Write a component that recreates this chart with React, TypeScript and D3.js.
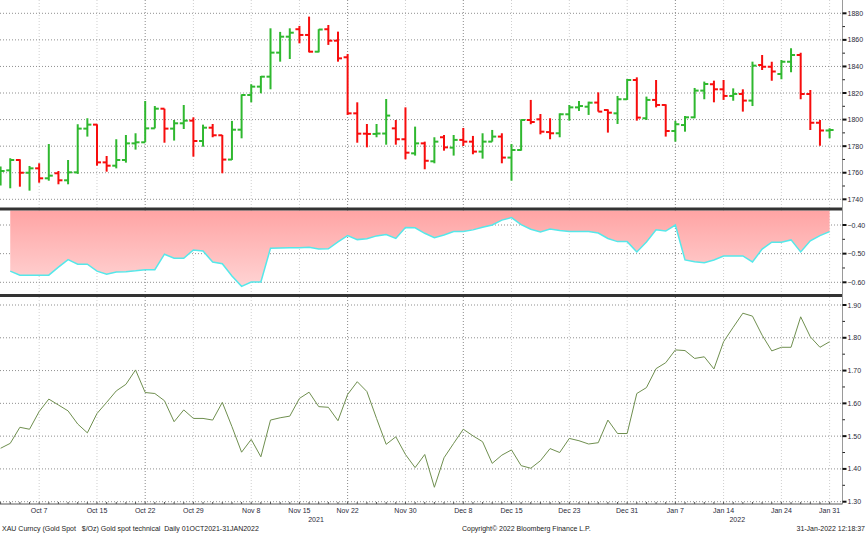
import * as d3 from "d3"

// trading days Oct 1 2021 .. Jan 31 2022 (weekdays)
const days = d3.timeDays(new Date(2021, 9, 1), new Date(2022, 1, 1))
  .filter(d => d.getDay() !== 0 && d.getDay() !== 6)

const opens = [1757,1761.8,1769.6,1760,1763.3,1755.8,1759.6,1754.3,1760.3,1793.2,1796.2,1767.8,1765.3,1769.6,1782.1,1782.9,1793.4,1808.2,1793.2,1797.2,1799.2,1783.9,1793.9,1788.2,1769.9,1792.4,1818.5,1824.8,1832.3,1850.4,1862.4,1868,1863.7,1851.1,1868,1859.4,1846.9,1804.7,1789.4,1789.2,1789.5,1793.4,1785.2,1774.6,1782.1,1768.6,1786.7,1778.9,1784.7,1783.4,1775.9,1783.4,1787.2,1771.4,1777.1,1799.7,1800.2,1790.6,1789.7,1804,1809.2,1809.7,1812.8,1807.2,1804.7,1815.3,1829.8,1801,1814.8,1811,1791.4,1795.9,1801.7,1821.8,1826.6,1822.8,1817.8,1819.3,1814.3,1841.1,1839.8,1834.3,1843.6,1848.6,1819.3,1797.7,1791.7]
const highs = [1764.6,1770.9,1770.1,1765.1,1767.1,1781.6,1761.3,1769.6,1796.5,1801,1796.5,1772.6,1785.2,1788.4,1789.7,1814,1810.2,1808.2,1799.7,1811,1801.7,1796.2,1796.7,1788.4,1799,1819,1826.6,1832.8,1868.7,1866,1868.7,1870.5,1877.5,1868,1871.2,1866.2,1849.4,1813,1796.7,1796.7,1815.5,1799.7,1809.2,1794.7,1783.4,1786.7,1788.4,1788.4,1793.7,1787.7,1789.7,1792.2,1789.7,1781.6,1800.2,1814.8,1804.2,1801,1804.7,1811,1814,1813.5,1820.5,1807.7,1817.8,1830.6,1831.8,1817.3,1829.8,1811.5,1799,1802.7,1823.8,1828.6,1829.3,1829.8,1823.5,1822.8,1843.6,1848.6,1843.6,1844.9,1853.7,1850.4,1822.3,1799.7,1793.4]
const lows = [1750.3,1748.3,1749.5,1746.5,1752.5,1754,1751.3,1751.3,1759.1,1787.2,1765.3,1760.8,1763.3,1767.6,1777.4,1782.9,1793.4,1782.6,1784.2,1792.9,1772.1,1779.6,1786.7,1759.6,1769.6,1785.9,1813,1819.8,1822.8,1843.6,1845.6,1857.4,1850.6,1850.6,1856.2,1843.6,1803.5,1782.6,1779.1,1786.7,1781.1,1781.1,1770.1,1772.9,1762.6,1767.1,1776.6,1772.9,1780.1,1773.9,1770.6,1783.4,1767.1,1754,1776.6,1796.5,1788.9,1785.2,1786.7,1799.2,1806.5,1803.5,1806,1790.2,1796.7,1814.8,1799.2,1799.7,1809.2,1787.2,1783.4,1790.9,1801,1815.3,1813,1814.8,1814.2,1806,1810.2,1837.3,1829.3,1830.3,1835.6,1815.3,1792.2,1780.4,1785.9]
const closes = [1761.3,1769.6,1760,1763.3,1755.8,1757.8,1754.3,1760.3,1793.2,1796.2,1767.8,1765.3,1769.6,1782.1,1782.9,1793.4,1808.2,1793.2,1797.2,1799.2,1783.9,1793.9,1788.2,1769.9,1792.4,1818.5,1824.8,1832.3,1850.4,1862.4,1865.4,1863.7,1851.1,1867.8,1859.4,1846.1,1804.7,1789.4,1789.2,1789.5,1803,1785.2,1775.1,1782.1,1769,1783.4,1779.1,1784.7,1783.4,1775.9,1783.4,1787.2,1771.4,1777.1,1799.7,1798.2,1790.9,1789.7,1804,1809.2,1810.2,1812.7,1806,1805.2,1815.3,1829.8,1801.5,1814.8,1811,1791.4,1796.5,1801.7,1821.8,1826.8,1822.8,1817.8,1819.3,1814.3,1840.6,1839.8,1836.1,1843.6,1848.6,1819.3,1797.7,1791.7,1792.2]

// middle study, starts on the second day
const studyValues = [-0.561,-0.575,-0.575,-0.575,-0.575,-0.547,-0.521,-0.537,-0.537,-0.561,-0.572,-0.564,-0.563,-0.56,-0.556,-0.556,-0.502,-0.516,-0.516,-0.487,-0.491,-0.529,-0.535,-0.578,-0.614,-0.599,-0.599,-0.481,-0.48,-0.479,-0.479,-0.478,-0.484,-0.483,-0.459,-0.437,-0.451,-0.448,-0.438,-0.433,-0.447,-0.409,-0.41,-0.429,-0.444,-0.435,-0.423,-0.423,-0.417,-0.408,-0.4,-0.383,-0.374,-0.399,-0.415,-0.424,-0.414,-0.419,-0.423,-0.423,-0.423,-0.428,-0.447,-0.458,-0.458,-0.494,-0.459,-0.417,-0.421,-0.4,-0.522,-0.528,-0.532,-0.522,-0.508,-0.508,-0.508,-0.529,-0.484,-0.46,-0.46,-0.452,-0.494,-0.455,-0.437,-0.423]

const lowerValues = [1.463,1.478,1.527,1.521,1.575,1.613,1.595,1.577,1.537,1.51,1.569,1.603,1.638,1.658,1.702,1.633,1.63,1.608,1.544,1.58,1.554,1.554,1.549,1.603,1.529,1.451,1.49,1.437,1.549,1.556,1.561,1.615,1.634,1.59,1.588,1.547,1.627,1.666,1.636,1.554,1.475,1.498,1.444,1.404,1.444,1.344,1.434,1.478,1.521,1.501,1.483,1.417,1.442,1.458,1.41,1.402,1.425,1.462,1.45,1.493,1.486,1.476,1.48,1.549,1.508,1.508,1.63,1.648,1.706,1.724,1.763,1.761,1.737,1.742,1.705,1.788,1.832,1.875,1.866,1.808,1.76,1.771,1.771,1.864,1.803,1.771,1.788]

const dateLabels = ["Oct 7","Oct 15","Oct 22","Oct 29","Nov 8","Nov 15","Nov 22","Nov 30","Dec 8","Dec 15","Dec 23","Dec 31","Jan 7","Jan 14","Jan 24","Jan 31"]
const darkGridLabels = ["Oct 22","Nov 22","Dec 8","Jan 7"]
const years = ["2021","2022"]
const priceTicks = [1740,1760,1780,1800,1820,1840,1860,1880]
const studyTicks = [-0.6,-0.5,-0.4]
const lowerTicks = [1.3,1.4,1.5,1.6,1.7,1.8,1.9]

const footerLeft = "XAU Curncy (Gold Spot   $/Oz) Gold spot technical  Daily 01OCT2021-31JAN2022"
const footerMid = "Copyright\u00a9 2022 Bloomberg Finance L.P."
const footerRight = "31-Jan-2022 12:18:37"

const W = 866
const H = 533
const axisX = 842.5
const font = "'Liberation Sans', Arial, sans-serif"

export default function App() {
  const fmt = d3.timeFormat("%b %-d")
  const x = d3.scaleLinear().domain([0, days.length - 1]).range([0.6, 829.6])
  const yTop = d3.scaleLinear().domain([1740, 1880]).range([199.3, 13.3])
  const yMid = d3.scaleLinear().domain([-0.6, -0.4]).range([282.3, 225])
  const yBot = d3.scaleLinear().domain([1.3, 1.9]).range([501.7, 305])

  const midTop = 210.5
  const area = d3.area<number>()
    .x((_, i) => x(i + 1))
    .y0(midTop)
    .y1(d => yMid(d))
  const midLine = d3.line<number>()
    .x((_, i) => x(i + 1))
    .y(d => yMid(d))
  const botLine = d3.line<number>()
    .x((_, i) => x(i))
    .y(d => yBot(d))

  const labelIdx = dateLabels.map(l => days.findIndex(d => fmt(d) === l))
  const firstOf2022 = days.findIndex(d => d.getFullYear() === 2022)
  const split = x(firstOf2022 - 0.5)
  const yearCenters = [split / 2, (split + axisX) / 2]

  const fmtPrice = d3.format("d")
  const fmt2 = d3.format(".2f")

  const minorPrice = d3.range(1750, 1880, 20)
  const minorStudy = [-0.55, -0.45]
  const minorLower = d3.range(1.35, 1.9, 0.1)

  return (
    <svg width={W} height={H} style={{ position: "absolute", left: 0, top: 0, background: "#fff" }}
      fontFamily={font} fontSize={7}>
      <defs>
        <linearGradient id="pinkFill" gradientUnits="userSpaceOnUse" x1="0" y1={midTop} x2="0" y2="290">
          <stop offset="0" stopColor="#ffa4a4" />
          <stop offset="1" stopColor="#ffd6d6" />
        </linearGradient>
        <clipPath id="plotClip"><rect x={0} y={0} width={axisX} height={H} /></clipPath>
      </defs>

      {/* vertical grid */}
      {dateLabels.map((l, k) => (
        <line key={l} x1={x(labelIdx[k])} x2={x(labelIdx[k])} y1={0} y2={504}
          stroke={darkGridLabels.includes(l) ? "#8a8a8a" : "#cfcfcf"} strokeDasharray="1,2" />
      ))}

      {/* horizontal grid */}
      {priceTicks.map(t => (
        <line key={"p" + t} x1={0} x2={axisX} y1={yTop(t)} y2={yTop(t)} stroke="#8f8f8f" strokeDasharray="1,2" />
      ))}
      {studyTicks.map(t => (
        <line key={"s" + t} x1={0} x2={axisX} y1={yMid(t)} y2={yMid(t)} stroke="#8f8f8f" strokeDasharray="1,2" />
      ))}
      {lowerTicks.map(t => (
        <line key={"l" + t} x1={0} x2={axisX} y1={yBot(t)} y2={yBot(t)} stroke="#8f8f8f" strokeDasharray="1,2" />
      ))}

      {/* OHLC bars */}
      <g clipPath="url(#plotClip)">
        {closes.map((c, i) => {
          const col = c >= opens[i] ? "#2fb82f" : "#f70d0d"
          const cx = x(i)
          return (
            <g key={i} stroke={col} strokeWidth={2}>
              <line x1={cx} x2={cx} y1={yTop(highs[i])} y2={yTop(lows[i])} />
              <line x1={cx - 4} x2={cx} y1={yTop(opens[i])} y2={yTop(opens[i])} />
              <line x1={cx} x2={cx + 4} y1={yTop(c)} y2={yTop(c)} />
            </g>
          )
        })}
      </g>

      {/* middle study */}
      <path d={area(studyValues) ?? ""} fill="url(#pinkFill)" />
      <path d={midLine(studyValues) ?? ""} fill="none" stroke="#55e8ea" strokeWidth={1.5} />

      {/* lower study */}
      <path d={botLine(lowerValues) ?? ""} fill="none" stroke="#6f8f4f" strokeWidth={1} />

      {/* panel separators */}
      <line x1={0} x2={axisX} y1={209} y2={209} stroke="#333" strokeWidth={3} />
      <line x1={0} x2={axisX} y1={295.5} y2={295.5} stroke="#333" strokeWidth={3} />

      {/* right axis */}
      <line x1={axisX} x2={axisX} y1={0} y2={504} stroke="#9a9a9a" />
      {minorPrice.map(t => (
        <line key={"mp" + t} x1={axisX} x2={axisX + 2.5} y1={yTop(t)} y2={yTop(t)} stroke="#222" />
      ))}
      {minorStudy.map(t => (
        <line key={"ms" + t} x1={axisX} x2={axisX + 2.5} y1={yMid(t)} y2={yMid(t)} stroke="#222" />
      ))}
      {minorLower.map(t => (
        <line key={"ml" + t} x1={axisX} x2={axisX + 2.5} y1={yBot(t)} y2={yBot(t)} stroke="#222" />
      ))}
      {priceTicks.map(t => (
        <g key={"pt" + t}>
          <line x1={axisX} x2={axisX + 4} y1={yTop(t)} y2={yTop(t)} stroke="#111" strokeWidth={2} />
          <text x={axisX + 5} y={yTop(t) + 2.5} fill="#2a2a3a">{fmtPrice(t)}</text>
        </g>
      ))}
      {studyTicks.map(t => (
        <g key={"st" + t}>
          <line x1={axisX} x2={axisX + 4} y1={yMid(t)} y2={yMid(t)} stroke="#111" strokeWidth={2} />
          <text x={axisX + 5} y={yMid(t) + 2.5} fill="#2a2a3a">{fmt2(t)}</text>
        </g>
      ))}
      {lowerTicks.map(t => (
        <g key={"lt" + t}>
          <line x1={axisX} x2={axisX + 4} y1={yBot(t)} y2={yBot(t)} stroke="#111" strokeWidth={2} />
          <text x={axisX + 5} y={yBot(t) + 2.5} fill="#2a2a3a">{fmt2(t)}</text>
        </g>
      ))}

      {/* x axis */}
      <line x1={0} x2={axisX} y1={504} y2={504} stroke="#555" />
      {days.map((_, i) => (
        <line key={"xt" + i} x1={x(i)} x2={x(i)} y1={502} y2={504} stroke="#555" />
      ))}
      {dateLabels.map((l, k) => (
        <text key={"xl" + l} x={x(labelIdx[k])} y={513} textAnchor="middle" fill="#2a2a3a">{l}</text>
      ))}
      {years.map((yr, k) => (
        <text key={yr} x={yearCenters[k]} y={522} textAnchor="middle" fill="#2a2a3a">{yr}</text>
      ))}

      {/* footer */}
      <text x={2} y={531} fill="#222" style={{ whiteSpace: "pre" }}>{footerLeft}</text>
      <text x={462} y={531} fill="#222">{footerMid}</text>
      <text x={865} y={531} textAnchor="end" fill="#222">{footerRight}</text>
    </svg>
  )
}
